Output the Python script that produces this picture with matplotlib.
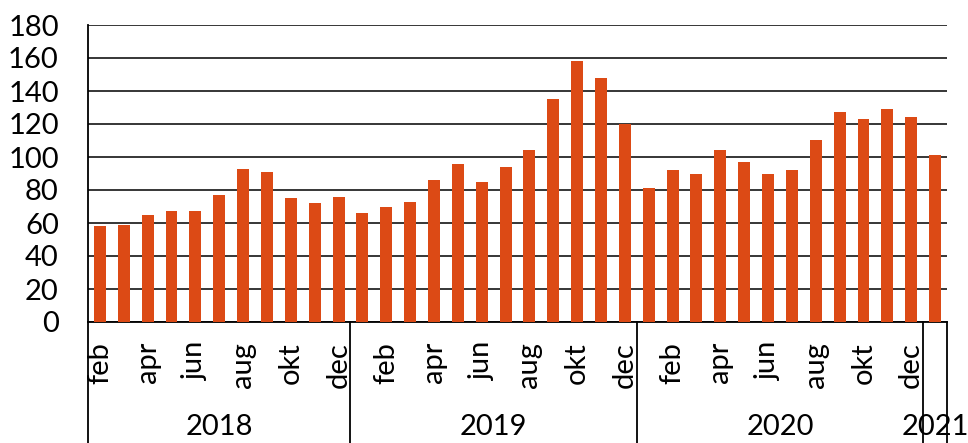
import matplotlib.pyplot as plt
import matplotlib.transforms as mtransforms
import numpy as np

plt.rcParams['font.family'] = ['Lato', 'DejaVu Sans']

# monthly values feb 2018 - jan 2021
values_2018 = [58, 59, 65, 67, 67, 77, 93, 91, 75, 72, 76]
values_2019 = [66, 70, 73, 86, 96, 85, 94, 104, 135, 158, 148, 120]
values_2020 = [81, 92, 90, 104, 97, 90, 92, 110, 127, 123, 129, 124]
values_2021 = [101]

months_2018 = ['feb', 'mar', 'apr', 'maj', 'jun', 'jul', 'aug', 'sep', 'okt', 'nov', 'dec']
months_full = ['jan', 'feb', 'mar', 'apr', 'maj', 'jun', 'jul', 'aug', 'sep', 'okt', 'nov', 'dec']
years = ['2018', '2019', '2020', '2021']
shown_months = ['feb', 'apr', 'jun', 'aug', 'okt', 'dec']

values = values_2018 + values_2019 + values_2020 + values_2021
months = months_2018 + months_full + months_full + ['jan']
year_sizes = [len(values_2018), len(values_2019), len(values_2020), len(values_2021)]
x = np.arange(len(values))

fig = plt.figure(figsize=(9.68, 4.43), dpi=100)
ax = fig.add_axes([88 / 968, 121 / 443, 859 / 968, 297 / 443])

ax.bar(x, values, width=0.5, color='#dc4a15', zorder=3)
ax.set_xlim(-0.5, len(values) - 0.5)
ax.set_ylim(0, 180)
ax.set_yticks(np.arange(0, 181, 20))
ax.yaxis.grid(True, color='black', linewidth=1.1)
ax.set_axisbelow(True)
ax.tick_params(axis='y', length=0, pad=21, labelsize=21)
ax.set_xticks([])
for s in ['top', 'right']:
    ax.spines[s].set_visible(False)
ax.spines['left'].set_linewidth(1.3)
ax.spines['bottom'].set_linewidth(1.3)

trans = mtransforms.blended_transform_factory(ax.transData, ax.transAxes)

# month labels
for xi, m in zip(x, months):
    if m in shown_months:
        ax.text(xi, -0.067, m, rotation=90, ha='center', va='top',
                fontsize=21, transform=trans, clip_on=False)

# year separators and labels
start = 0
bounds = [-0.5]
for y, n in zip(years, year_sizes):
    end = start + n
    bounds.append(end - 0.5)
    ax.text((start + end - 1) / 2, -0.354, y, ha='center', va='center',
            fontsize=21, transform=trans, clip_on=False)
    start = end
for b in bounds:
    ax.plot([b, b], [0, -0.42], color='black', linewidth=1.3,
            transform=trans, clip_on=False)

fig.savefig('out.png', dpi=100)
